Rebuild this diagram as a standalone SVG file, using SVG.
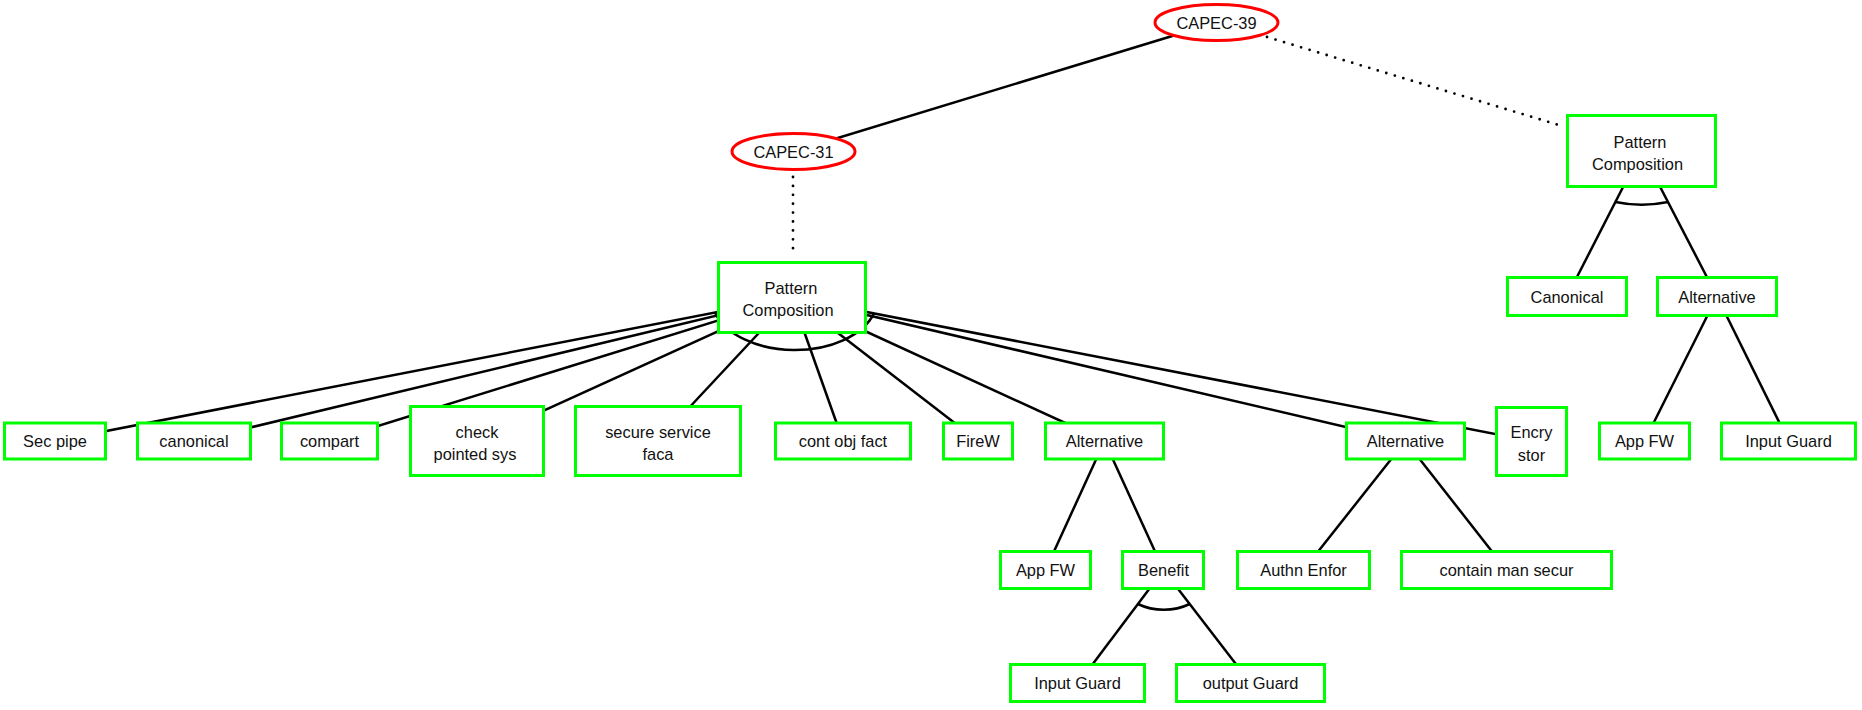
<svg xmlns="http://www.w3.org/2000/svg" width="1862" height="710" viewBox="0 0 1862 710">
<style>
.n rect{fill:#fff;stroke:#00ff00;stroke-width:3}
.n ellipse{fill:#fff;stroke:#ff0000;stroke-width:3}
text{font-family:"Liberation Sans",Arial,sans-serif;font-size:16.4px;fill:#111;text-anchor:middle}
#edges line,#edges path{stroke:#000;stroke-width:2.5;fill:none}
#edges .dot{stroke-width:2.8;stroke-dasharray:0 8.9;stroke-linecap:round}
</style>
<rect width="1862" height="710" fill="#fff"/>
<g id="edges">
<line x1="1216.5" y1="22.5" x2="793.5" y2="151.5"/>
<line class="dot" x1="1267" y1="37" x2="1562" y2="126"/>
<line class="dot" x1="793" y1="177" x2="793" y2="256"/>
<line x1="792" y1="297.5" x2="55" y2="441"/>
<line x1="792" y1="297.5" x2="194" y2="441"/>
<line x1="792" y1="297.5" x2="329.5" y2="441"/>
<line x1="792" y1="297.5" x2="477" y2="441"/>
<line x1="792" y1="297.5" x2="658" y2="441"/>
<line x1="792" y1="297.5" x2="843" y2="441"/>
<line x1="792" y1="297.5" x2="978" y2="441"/>
<line x1="792" y1="297.5" x2="1104.5" y2="441"/>
<line x1="792" y1="297.5" x2="1405.5" y2="441"/>
<line x1="792" y1="297.5" x2="1531.5" y2="441"/>
<path d="M715 312.5A83 52 0 0 0 874 313.4"/>
<line x1="1641.5" y1="151" x2="1567" y2="296.5"/>
<line x1="1641.5" y1="151" x2="1717" y2="296.5"/>
<path d="M1615.4 202A85 55 0 0 0 1668 202"/>
<line x1="1717" y1="296.5" x2="1644.5" y2="441"/>
<line x1="1717" y1="296.5" x2="1788.5" y2="441"/>
<line x1="1104.5" y1="441" x2="1045.5" y2="570"/>
<line x1="1104.5" y1="441" x2="1163.5" y2="570"/>
<line x1="1405.5" y1="441" x2="1303.5" y2="570"/>
<line x1="1405.5" y1="441" x2="1506.5" y2="570"/>
<line x1="1163.5" y1="570" x2="1078.5" y2="683"/>
<line x1="1163.5" y1="570" x2="1250.5" y2="683"/>
<path d="M1137.9 604A49 38 0 0 0 1189.7 604"/>
</g>
<g id="capec39" class="n"><ellipse cx="1216.5" cy="22.5" rx="61.5" ry="18"/><text x="1216.5" y="29">CAPEC-39</text></g>
<g id="capec31" class="n"><ellipse cx="793.5" cy="151.5" rx="61.5" ry="18"/><text x="793.5" y="158">CAPEC-31</text></g>
<g id="pc1" class="n"><rect x="718.5" y="262.5" width="147" height="70"/><text x="791" y="294">Pattern</text><text x="788" y="316">Composition</text></g>
<g id="pc2" class="n"><rect x="1567.5" y="115.5" width="148" height="71"/><text x="1640" y="148">Pattern</text><text x="1637.5" y="170">Composition</text></g>
<g id="canonical2" class="n"><rect x="1507.5" y="277.5" width="119" height="38"/><text x="1567" y="302.5">Canonical</text></g>
<g id="alt3" class="n"><rect x="1657.5" y="277.5" width="119" height="38"/><text x="1717" y="302.5">Alternative</text></g>
<g id="appfw2" class="n"><rect x="1599.5" y="423" width="90" height="36"/><text x="1644.5" y="447">App FW</text></g>
<g id="inputguard2" class="n"><rect x="1721.5" y="423" width="134" height="36"/><text x="1788.5" y="447">Input Guard</text></g>
<g id="secpipe" class="n"><rect x="4.5" y="423" width="101" height="36"/><text x="55" y="447">Sec pipe</text></g>
<g id="canonical" class="n"><rect x="137.5" y="423" width="113" height="36"/><text x="194" y="447">canonical</text></g>
<g id="compart" class="n"><rect x="281.5" y="423" width="96" height="36"/><text x="329.5" y="447">compart</text></g>
<g id="check" class="n"><rect x="410.5" y="406.5" width="133" height="69"/><text x="477" y="438">check</text><text x="475" y="460">pointed sys</text></g>
<g id="secure" class="n"><rect x="575.5" y="406.5" width="165" height="69"/><text x="658" y="438">secure service</text><text x="658" y="460">faca</text></g>
<g id="contobj" class="n"><rect x="775.5" y="423" width="135" height="36"/><text x="843" y="447">cont obj fact</text></g>
<g id="firew" class="n"><rect x="943.5" y="423" width="69" height="36"/><text x="978" y="447">FireW</text></g>
<g id="alt1" class="n"><rect x="1045.5" y="423" width="118" height="36"/><text x="1104.5" y="447">Alternative</text></g>
<g id="alt2" class="n"><rect x="1346.5" y="423" width="118" height="36"/><text x="1405.5" y="447">Alternative</text></g>
<g id="encry" class="n"><rect x="1496.5" y="407.5" width="70" height="68"/><text x="1531.5" y="438">Encry</text><text x="1531.5" y="461">stor</text></g>
<g id="appfw1" class="n"><rect x="1000.5" y="551.5" width="90" height="37"/><text x="1045.5" y="576">App FW</text></g>
<g id="benefit" class="n"><rect x="1122.5" y="551.5" width="81" height="37"/><text x="1163.5" y="576">Benefit</text></g>
<g id="authn" class="n"><rect x="1237.5" y="551.5" width="132" height="37"/><text x="1303.5" y="576">Authn Enfor</text></g>
<g id="contain" class="n"><rect x="1401.5" y="551.5" width="210" height="37"/><text x="1506.5" y="576">contain man secur</text></g>
<g id="inputguard1" class="n"><rect x="1010.5" y="664.5" width="134" height="37"/><text x="1077.5" y="689">Input Guard</text></g>
<g id="outputguard" class="n"><rect x="1176.5" y="664.5" width="148" height="37"/><text x="1250.5" y="689">output Guard</text></g>
</svg>
